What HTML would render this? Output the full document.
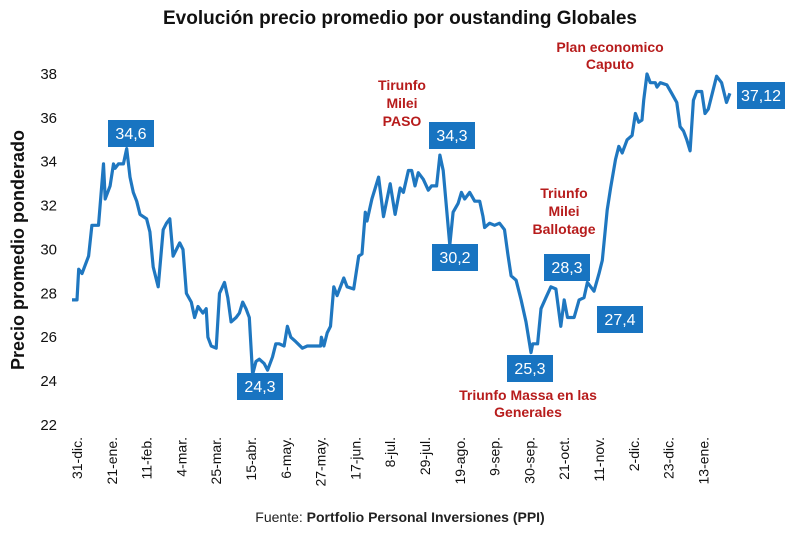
<!DOCTYPE html>
<html><head><meta charset="utf-8">
<style>
body{margin:0;background:#fff;font-family:"Liberation Sans",Arial,sans-serif;}
svg text{font-family:"Liberation Sans",Arial,sans-serif;}
</style></head>
<body>
<svg id="chart" width="800" height="530" viewBox="0 0 800 530">
<text x="400" y="24" text-anchor="middle" font-size="19" font-weight="bold" fill="#111">Evolución precio promedio por oustanding Globales</text>
<text transform="translate(24,250) rotate(-90)" text-anchor="middle" font-size="18" font-weight="bold" fill="#111">Precio promedio ponderado</text>
<g id="yticks"></g><g id="xticks"></g>
<path id="line" fill="none" stroke="#1f77c0" stroke-width="3.2" stroke-linejoin="round"></path>
<g id="labels"></g>
<g fill="#b71c1c" font-size="14" font-weight="bold" text-anchor="middle">
<text x="402" y="90"><tspan x="402">Tirunfo</tspan><tspan x="402" dy="18">Milei</tspan><tspan x="402" dy="18">PASO</tspan></text>
<text x="610" y="52"><tspan x="610">Plan economico</tspan><tspan x="610" dy="17">Caputo</tspan></text>
<text x="564" y="198"><tspan x="564">Triunfo</tspan><tspan x="564" dy="18">Milei</tspan><tspan x="564" dy="18">Ballotage</tspan></text>
<text x="528" y="400"><tspan x="528">Triunfo Massa en las</tspan><tspan x="528" dy="17">Generales</tspan></text>
</g>
<text x="400" y="522" text-anchor="middle" font-size="14" fill="#222">Fuente: <tspan font-weight="bold">Portfolio Personal Inversiones (PPI)</tspan></text>
</svg>
<script>
const yTicks=[22,24,26,28,30,32,34,36,38];
const xTickLabels=["31-dic.","21-ene.","11-feb.","4-mar.","25-mar.","15-abr.","6-may.","27-may.","17-jun.","8-jul.","29-jul.","19-ago.","9-sep.","30-sep.","21-oct.","11-nov.","2-dic.","23-dic.","13-ene."];
const days=[-3,0,1,3,7,9,13,16,17,20,22,23,25,28,30,32,34,36,38,42,44,46,49,52,54,56,58,62,64,66,69,71,73,76,78,79,81,84,86,89,91,93,96,98,100,102,104,106,108,110,113,115,118,120,122,125,127,129,132,136,139,143,147,147.5,149,151,153,155,157,161,163,167,170,172,174,175,178,182,185,189,192,195,197,200,202,204,206,209,212,214,217,219,221,225,227,230,232,234,237,240,243,245,246,249,252,255,258,260,262,265,268,271,274,275,278,280,283,286,289,292,294,296,300,303,306,308,312,315,317,320,322,325,327,329,332,335,337,339,341,342,344,346,349,350,352,356,359,362,364,366,368,370,372,374,377,379,381,384,386,389,392,394];
const prices=[27.7,27.7,29.1,28.9,29.7,31.1,31.1,33.9,32.3,32.9,33.9,33.7,33.9,33.9,34.6,33.3,32.6,32.2,31.6,31.4,30.8,29.2,28.3,30.9,31.2,31.4,29.7,30.3,30.0,28.0,27.6,26.9,27.4,27.1,27.3,26.0,25.6,25.5,28.0,28.5,27.8,26.7,26.9,27.1,27.6,27.3,26.9,24.3,24.9,25.0,24.8,24.5,25.1,25.7,25.7,25.6,26.5,26.0,25.8,25.5,25.6,25.6,25.6,26.0,25.6,26.2,26.5,28.3,27.9,28.7,28.3,28.2,29.7,29.8,31.7,31.3,32.3,33.3,31.5,33.0,31.6,32.8,32.6,33.6,33.6,32.9,33.5,33.2,32.7,32.9,32.9,34.3,33.6,30.2,31.7,32.1,32.6,32.3,32.6,32.2,32.2,31.5,31.0,31.2,31.1,31.2,30.9,29.8,28.8,28.6,27.7,26.7,25.3,25.7,25.7,27.3,27.8,28.3,28.2,26.5,27.7,26.9,26.9,27.7,27.8,28.5,28.1,28.9,29.5,31.8,32.8,34.1,34.7,34.4,35.0,35.2,36.2,35.8,35.9,36.8,38.0,37.6,37.6,37.4,37.6,37.5,37.1,36.7,35.6,35.4,35.0,34.5,36.8,37.2,37.2,36.2,36.4,37.3,37.9,37.6,36.7,37.12];
const callouts=[["34,6",131,133],["24,3",260,386],["34,3",452,135],["30,2",455,257],["25,3",530,368],["28,3",567,267],["27,4",620,319],["37,12",761,95]];
const NS="http://www.w3.org/2000/svg";
const xs=d=>77+d*1.657;
const ys=v=>425-(v-22)*21.94;
const yg=document.getElementById('yticks');
yTicks.forEach(v=>{const t=document.createElementNS(NS,'text');


t.setAttribute('x',57);t.setAttribute('y',ys(v)+5);t.setAttribute('text-anchor','end');t.setAttribute('font-size','15');t.setAttribute('fill','#111');t.textContent=v;yg.appendChild(t);});
const xg=document.getElementById('xticks');
xTickLabels.forEach((l,i)=>{const x=xs(i*21);const t=document.createElementNS(NS,'text');


t.setAttribute('transform','translate('+(x+5)+',437) rotate(-90)');t.setAttribute('text-anchor','end');t.setAttribute('font-size','14');t.setAttribute('fill','#111');t.textContent=l;xg.appendChild(t);});
document.getElementById('line').setAttribute('d',days.map((d,i)=>(i?'L':'M')+xs(d).toFixed(1)+' '+ys(prices[i]).toFixed(1)).join(' '));
const lg=document.getElementById('labels');
callouts.forEach(c=>{const w=c[0].length>4?48:46;const r=document.createElementNS(NS,'rect');


r.setAttribute('x',c[1]-w/2);r.setAttribute('y',c[2]-13);r.setAttribute('width',w);r.setAttribute('height',27);r.setAttribute('fill','#1874c1');lg.appendChild(r);
const t=document.createElementNS(NS,'text');


t.setAttribute('x',c[1]);t.setAttribute('y',c[2]+6);t.setAttribute('text-anchor','middle');t.setAttribute('font-size','16');t.setAttribute('fill','#fff');t.textContent=c[0];lg.appendChild(t);});
</script>
</body></html>
